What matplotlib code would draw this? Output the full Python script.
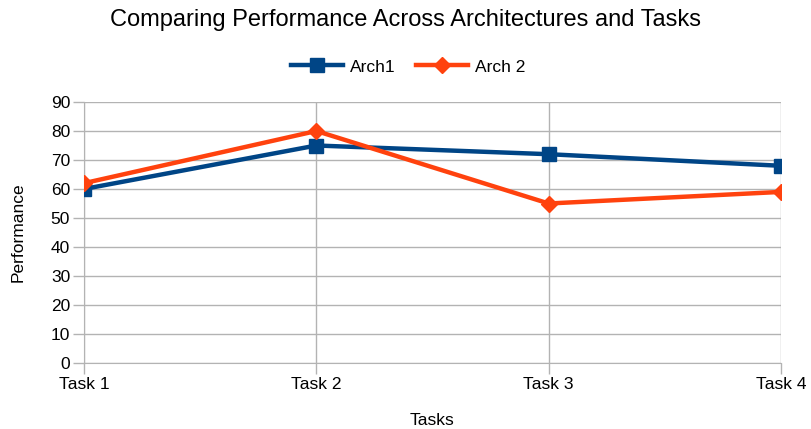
import matplotlib
matplotlib.use("Agg")
import matplotlib.pyplot as plt

categories = ["Task 1", "Task 2", "Task 3", "Task 4"]
arch1 = [60, 75, 72, 68]
arch2 = [62, 80, 55, 59]
yticks = [0, 10, 20, 30, 40, 50, 60, 70, 80, 90]

plt.rcParams['font.family'] = ['Liberation Sans', 'DejaVu Sans']

fig = plt.figure(figsize=(8.11, 4.29), dpi=100)
ax = fig.add_axes([84/811, 1-363/429, (781-84)/811, (363-102)/429])

x = list(range(len(categories)))
ax.plot(x, arch1, color='#004586', lw=3.2, marker='s', ms=10, label='Arch1', zorder=3)
ax.plot(x, arch2, color='#ff420e', lw=3.2, marker='D', ms=8, label='Arch 2', zorder=4)

ax.set_xlim(0, 3)
ax.set_ylim(0, 90)
ax.set_xticks(x)
ax.set_xticklabels(categories)
ax.set_yticks(yticks)
ax.grid(True, color='#b3b3b3', lw=1)
ax.set_axisbelow(True)
for s in ['top', 'right']:
    ax.spines[s].set_visible(False)
for s in ['left', 'bottom']:
    ax.spines[s].set_color('#b3b3b3')
ax.tick_params(axis='both', colors='#b3b3b3', labelcolor='black', labelsize=12.5, length=8, width=1)
ax.tick_params(axis='x', pad=2)
ax.tick_params(axis='y', pad=2)
for lbl in ax.get_xticklabels() + ax.get_yticklabels():
    lbl.set_clip_on(False)

ax.set_xlabel('Tasks', fontsize=12.5, labelpad=15)
ax.set_ylabel('Performance', fontsize=12.5, labelpad=18)
fig.text(0.5, 1-20/429, 'Comparing Performance Across Architectures and Tasks',
         ha='center', va='center', fontsize=17)
fig.legend(loc='center', bbox_to_anchor=(408/811, 1-67/429), ncol=2, frameon=False,
           fontsize=12.5, handlelength=3, columnspacing=1.2, handletextpad=0.4)

fig.savefig('out.png', dpi=100)
